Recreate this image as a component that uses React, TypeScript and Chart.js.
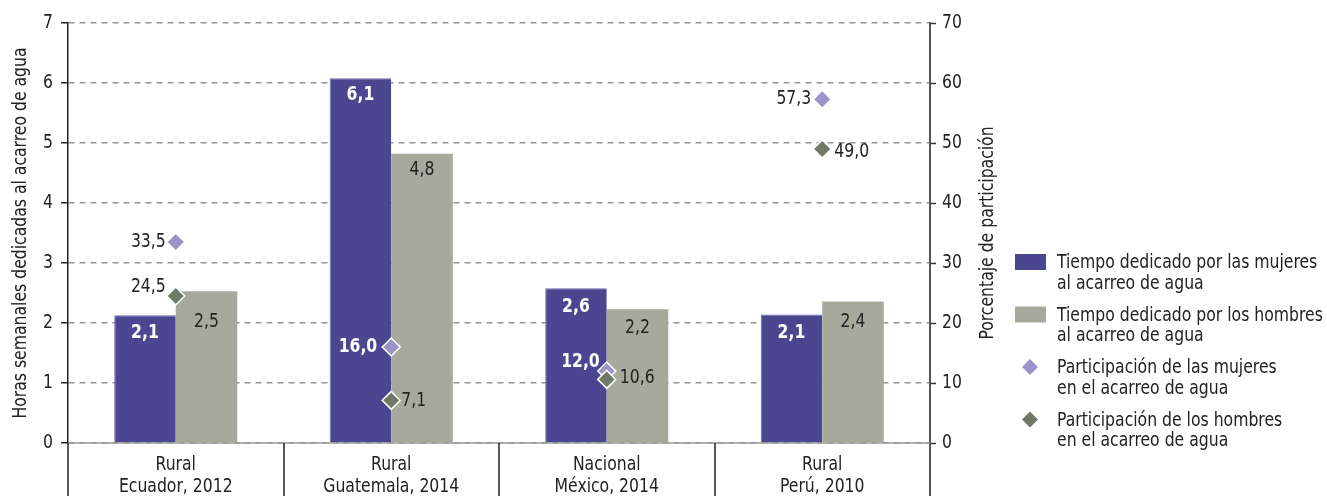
import React, { useEffect, useRef } from 'react';
import { Chart, registerables } from 'chart.js';

Chart.register(...registerables);

// ---------- data ----------
const categories: string[][] = [
  ['Rural', 'Ecuador, 2012'],
  ['Rural', 'Guatemala, 2014'],
  ['Nacional', 'México, 2014'],
  ['Rural', 'Perú, 2010'],
];
const womenHours = [2.13, 6.08, 2.58, 2.14];
const menHours = [2.53, 4.82, 2.23, 2.36];
const womenShare = [33.5, 16.0, 12.0, 57.3];
const menShare = [24.5, 7.1, 10.6, 49.0];

const seriesNames: string[][] = [
  ['Tiempo dedicado por las mujeres', 'al acarreo de agua'],
  ['Tiempo dedicado por los hombres', 'al acarreo de agua'],
  ['Participación de las mujeres', 'en el acarreo de agua'],
  ['Participación de los hombres', 'en el acarreo de agua'],
];
const leftTitle = 'Horas semanales dedicadas al acarreo de agua';
const rightTitle = 'Porcentaje de participación';

// ---------- styles ----------
const FONT = '"DejaVu Sans Condensed", "Liberation Sans Narrow", sans-serif';
const FS = 20;
const SX = 0.87; // horizontal condensing of text
const TEXT = '#222222';
const C_WOMEN_BAR = '#4a4790';
const C_MEN_BAR = '#a6a99b';
const C_WOMEN_PT = '#9b93c9';
const C_MEN_PT = '#6f7a66';

type LabelSpec = { pos: 'in' | 'L' | 'R'; dx?: number; dy?: number; white?: boolean };
const labelSpecs: LabelSpec[][] = [
  [
    { pos: 'in', dy: 18, white: true },
    { pos: 'in', dy: 17, white: true },
    { pos: 'in', dy: 19, white: true },
    { pos: 'in', dy: 18, white: true },
  ],
  [
    { pos: 'in', dy: 31 },
    { pos: 'in', dy: 16 },
    { pos: 'in', dy: 19 },
    { pos: 'in', dy: 20 },
  ],
  [
    { pos: 'L', dx: 10, dy: 0 },
    { pos: 'L', dx: 14, dy: 0, white: true },
    { pos: 'L', dx: 7, dy: -9, white: true },
    { pos: 'L', dx: 11, dy: 0 },
  ],
  [
    { pos: 'L', dx: 10, dy: -9 },
    { pos: 'R', dx: 10, dy: 0 },
    { pos: 'R', dx: 13, dy: -2 },
    { pos: 'R', dx: 12, dy: 3 },
  ],
];

const fmt = (v: number) => v.toFixed(1).replace('.', ',');

function drawText(
  ctx: CanvasRenderingContext2D,
  s: string,
  x: number,
  y: number,
  align: CanvasTextAlign,
  bold = false,
  color = TEXT,
  rot = 0,
) {
  ctx.save();
  ctx.font = `${bold ? 'bold ' : ''}${FS}px ${FONT}`;
  ctx.fillStyle = color;
  ctx.textAlign = align;
  ctx.textBaseline = 'middle';
  ctx.translate(x, y);
  if (rot) ctx.rotate(rot);
  ctx.scale(SX, 1);
  ctx.fillText(s, 0, 0);
  ctx.restore();
}

const diamond = (ctx: CanvasRenderingContext2D, x: number, y: number, r: number, fill: string) => {
  ctx.beginPath();
  ctx.moveTo(x, y - r);
  ctx.lineTo(x + r, y);
  ctx.lineTo(x, y + r);
  ctx.lineTo(x - r, y);
  ctx.closePath();
  ctx.fillStyle = fill;
  ctx.fill();
};

const customPlugin = {
  id: 'customDraw',
  beforeDatasetsDraw(chart: any) {
    const { ctx, chartArea } = chart;
    const y0 = chart.scales.y.getPixelForValue(0);
    ctx.save();
    ctx.strokeStyle = '#9a9a9a';
    ctx.lineWidth = 1.5;
    ctx.beginPath();
    ctx.moveTo(chartArea.left, y0);
    ctx.lineTo(chartArea.right, y0);
    ctx.stroke();
    ctx.restore();
  },
  afterDatasetsDraw(chart: any) {
    const { ctx } = chart;
    chart.data.datasets.forEach((ds: any, di: number) => {
      const meta = chart.getDatasetMeta(di);
      meta.data.forEach((el: any, j: number) => {
        const spec = labelSpecs[di][j];
        const t = fmt(ds.data[j]);
        const color = spec.white ? '#ffffff' : TEXT;
        const dy = spec.dy || 0;
        const dx = spec.dx || 0;
        if (spec.pos === 'in') drawText(ctx, t, el.x, el.y + dy, 'center', !!spec.white, color);
        else if (spec.pos === 'L') drawText(ctx, t, el.x - dx, el.y + dy, 'right', !!spec.white, color);
        else drawText(ctx, t, el.x + dx, el.y + dy, 'left', !!spec.white, color);
      });
    });
  },
  afterDraw(chart: any) {
    const { ctx, chartArea, height } = chart;
    const xs = chart.scales.x;
    const ys = chart.scales.y;
    const y1s = chart.scales.y1;
    const n = chart.data.labels.length;
    const step = xs.getPixelForValue(1) - xs.getPixelForValue(0);
    ctx.save();
    // category separators below the axis
    for (let i = 0; i <= n; i++) {
      const x = i < n ? xs.getPixelForValue(i) - step / 2 : xs.getPixelForValue(n - 1) + step / 2;
      ctx.strokeStyle = i === n ? '#555555' : '#222222';
      ctx.lineWidth = i === n ? 2 : 1.5;
      ctx.beginPath();
      ctx.moveTo(Math.round(x), chartArea.bottom);
      ctx.lineTo(Math.round(x), height);
      ctx.stroke();
    }
    ctx.restore();
    // tick labels
    ys.ticks.forEach((t: any) => {
      drawText(ctx, String(t.value), ys.right - 15, ys.getPixelForValue(t.value), 'right');
    });
    y1s.ticks.forEach((t: any) => {
      drawText(ctx, String(t.value), y1s.left + 12, y1s.getPixelForValue(t.value), 'left');
    });
    chart.data.labels.forEach((lab: string[], i: number) => {
      const x = xs.getPixelForValue(i);
      lab.forEach((ln, k) => drawText(ctx, ln, x, chartArea.bottom + 22 + k * 22, 'center'));
    });
    // axis titles
    const cy = (chartArea.top + chartArea.bottom) / 2;
    drawText(ctx, leftTitle, 21, cy, 'center', false, TEXT, -Math.PI / 2);
    drawText(ctx, rightTitle, 988, cy, 'center', false, TEXT, -Math.PI / 2);
    // legend
    const colors = [C_WOMEN_BAR, C_MEN_BAR, C_WOMEN_PT, C_MEN_PT];
    ctx.save();
    seriesNames.forEach((lines, i) => {
      const y = 263 + i * 52.5;
      if (i < 2) {
        ctx.fillStyle = colors[i];
        ctx.fillRect(1015, y - 9, 31, 16);
      } else {
        diamond(ctx, 1030, y - 1, 8, colors[i]);
      }
      lines.forEach((ln, k) => drawText(ctx, ln, 1057, y + k * 20.5, 'left'));
    });
    ctx.restore();
  },
};

export default function App() {
  const ref = useRef<HTMLCanvasElement>(null);
  useEffect(() => {
    document.body.style.margin = '0';
    document.body.style.overflow = 'hidden';
    const chart = new Chart(ref.current as HTMLCanvasElement, {
      type: 'bar',
      data: {
        labels: categories,
        datasets: [
          {
            type: 'bar',
            label: seriesNames[0].join(' '),
            data: womenHours,
            backgroundColor: C_WOMEN_BAR,
            borderColor: '#6d69a8',
            borderWidth: { top: 1, left: 1, right: 0, bottom: 0 },
            yAxisID: 'y',
            order: 2,
            barPercentage: 1,
            categoryPercentage: 0.571,
          },
          {
            type: 'bar',
            label: seriesNames[1].join(' '),
            data: menHours,
            backgroundColor: C_MEN_BAR,
            borderWidth: 0,
            yAxisID: 'y',
            order: 3,
            barPercentage: 1,
            categoryPercentage: 0.571,
          },
          {
            type: 'line',
            label: seriesNames[2].join(' '),
            data: womenShare,
            showLine: false,
            yAxisID: 'y1',
            pointStyle: 'rectRot',
            pointRadius: 9,
            pointBackgroundColor: C_WOMEN_PT,
            pointBorderColor: '#ffffff',
            pointBorderWidth: 1.5,
            order: 1,
          },
          {
            type: 'line',
            label: seriesNames[3].join(' '),
            data: menShare,
            showLine: false,
            yAxisID: 'y1',
            pointStyle: 'rectRot',
            pointRadius: 9,
            pointBackgroundColor: C_MEN_PT,
            pointBorderColor: '#ffffff',
            pointBorderWidth: 1.5,
            order: 0,
          },
        ] as any,
      },
      options: {
        animation: false,
        responsive: false,
        maintainAspectRatio: false,
        devicePixelRatio: 1,
        layout: { padding: { left: 0, right: 327, top: 23, bottom: 0 } },
        plugins: {
          legend: { display: false },
          tooltip: { enabled: false },
        },
        scales: {
          x: {
            type: 'category',
            offset: true,
            grid: { display: false, drawTicks: false },
            border: { display: false },
            ticks: { display: false, autoSkip: false },
            afterFit: (s: any) => { s.height = 53; },
          },
          y: {
            position: 'left',
            min: 0,
            max: 7,
            ticks: { stepSize: 1, display: false },
            grid: {
              color: '#959595',
              lineWidth: 1.5,
              tickLength: 7,
              tickColor: '#222222',
              tickWidth: 1.5,
            },
            border: { display: true, color: '#222222', width: 1.5, dash: [6, 5] },
            afterFit: (s: any) => { s.width = 68; },
          },
          y1: {
            position: 'right',
            min: 0,
            max: 70,
            ticks: { stepSize: 10, display: false },
            grid: {
              drawOnChartArea: false,
              tickLength: 6,
              tickColor: '#333333',
              tickWidth: 1.5,
            },
            border: { display: true, color: '#555555', width: 2 },
            afterFit: (s: any) => { s.width = 70; },
          },
        },
      } as any,
      plugins: [customPlugin],
    });
    return () => chart.destroy();
  }, []);
  return (
    <div style={{ width: 1327, height: 496, position: 'relative' }}>
      <canvas ref={ref} width={1327} height={496} style={{ display: 'block', width: 1327, height: 496 }} />
    </div>
  );
}
